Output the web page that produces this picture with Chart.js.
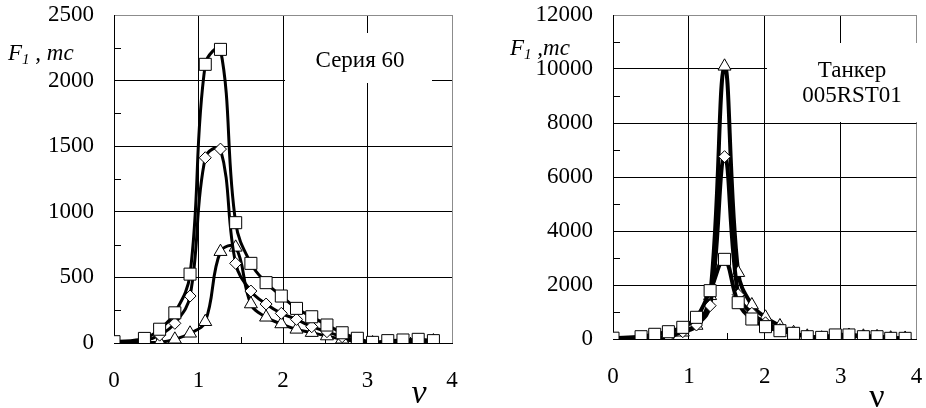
<!DOCTYPE html>
<html>
<head>
<meta charset="utf-8">
<script src="https://cdn.jsdelivr.net/npm/chart.js@4.4.1/dist/chart.umd.min.js"></script>
<style>
  body { margin: 0; background: #fff; }
  #wrap { position: relative; width: 926px; height: 408px; }
  canvas { position: absolute; top: 0; }
</style>
</head>
<body>
<div id="wrap">
  <canvas id="series60" width="470" height="408" style="left:0"></canvas>
  <canvas id="tanker" width="456" height="408" style="left:470px"></canvas>
</div>
<script>
// Серия 60 (left panel)
const nuSeries60 = [0, 0.36, 0.54, 0.72, 0.9, 1.08, 1.26, 1.44, 1.62, 1.8, 1.98, 2.16, 2.34, 2.52, 2.7, 2.88, 3.06, 3.24, 3.42, 3.6, 3.78];
const s60Squares = [10, 35, 105, 230, 525, 2124, 2238, 917, 607, 460, 358, 264, 200, 137, 78, 36, 5, 18, 23, 28, 18];
const s60Diamonds = [5, 20, 60, 150, 358, 1412, 1478, 607, 396, 297, 226, 180, 124, 86, 48, 20, 5, 0, 0, 10, 15];
const s60Triangles = [0, 5, 5, 28, 74, 162, 696, 729, 297, 196, 145, 104, 79, 53, 28, 10, 0, 0, 0, 10, 15];

// Танкер 005RST01 (right panel)
const nuTanker = [0, 0.37, 0.55, 0.73, 0.92, 1.1, 1.28, 1.47, 1.65, 1.83, 2.01, 2.2, 2.38, 2.56, 2.75, 2.93, 3.11, 3.3, 3.48, 3.66, 3.85];
const tSquares = [30, 85, 174, 270, 432, 803, 1790, 2950, 1345, 740, 457, 308, 210, 85, 60, 150, 150, 85, 85, 25, 25];
const tDiamonds = [0, 30, 40, 100, 270, 518, 1234, 6753, 1642, 950, 600, 350, 200, 100, 40, 60, 140, 100, 90, 40, 20];
const tTriangles = [0, 20, 20, 80, 250, 500, 1600, 10100, 2456, 1259, 804, 481, 230, 100, 30, 50, 130, 100, 80, 30, 20];

const xTicks = [0, 1, 2, 3, 4];
const xMinor = [0.5, 1.5, 2.5, 3.5];

const SERIF = "'Liberation Serif', 'Times New Roman', serif";
const tickFont = { family: SERIF, size: 23 };
Chart.defaults.font.family = SERIF;
Chart.defaults.color = '#000';

// minor ticks, white label box, captions
const decorations = {
  id: 'decorations',
  beforeDatasetsDraw(chart, args, opts) {
    const { ctx, chartArea, scales: { x, y } } = chart;
    ctx.save();
    ctx.strokeStyle = '#000';
    ctx.lineWidth = 1;
    ctx.beginPath();
    xMinor.forEach(v => {
      const px = Math.round(x.getPixelForValue(v)) + 0.5;
      ctx.moveTo(px, chartArea.bottom);
      ctx.lineTo(px, chartArea.bottom - 6);
    });
    opts.minorY.forEach(v => {
      const py = Math.round(y.getPixelForValue(v)) + 0.5;
      ctx.moveTo(chartArea.left, py);
      ctx.lineTo(chartArea.left + 7, py);
    });
    ctx.stroke();
    const b = opts.box;
    ctx.fillStyle = '#fff';
    ctx.fillRect(b.x, b.y, b.w, b.h);
    ctx.restore();
  },
  afterDraw(chart, args, opts) {
    const ctx = chart.ctx;
    const b = opts.box;
    ctx.save();
    ctx.fillStyle = '#000';
    ctx.textBaseline = 'alphabetic';
    ctx.textAlign = 'center';
    ctx.font = '23px ' + SERIF;
    b.lines.forEach((t, i) => ctx.fillText(t, b.cx, b.base + i * 25));

    // F1 , mc
    const c = opts.caption;
    ctx.textAlign = 'left';
    ctx.font = 'italic 23px ' + SERIF;
    ctx.fillText('F', c.x, c.base);
    let cx = c.x + ctx.measureText('F').width;
    ctx.font = 'italic 15px ' + SERIF;
    ctx.fillText('1', cx, c.base + 4);
    cx += ctx.measureText('1').width;
    ctx.font = 'italic 23px ' + SERIF;
    ctx.fillText(c.rest, cx, c.base);

    // nu
    const n = opts.nu;
    ctx.textAlign = 'center';
    ctx.font = (n.italic ? 'italic ' : '') + '34px ' + SERIF;
    ctx.fillText('\u03BD', n.x, n.base);
    ctx.restore();
  }
};

function noPadding(s) {
  s.paddingTop = 0;
  s.paddingBottom = 0;
  s.paddingLeft = 0;
  s.paddingRight = 0;
}

function makeChart(id, nu, squares, diamonds, triangles, o) {
  const canvas = document.getElementById(id);
  const W = canvas.width, H = canvas.height;
  const pts = arr => nu.map((v, i) => ({ x: v, y: arr[i] }));
  const ds = (label, arr, style, radius) => ({
    label,
    data: pts(arr),
    borderColor: '#000',
    borderWidth: o.lineWidth,
    pointStyle: style,
    pointRadius: radius,
    pointBackgroundColor: '#fff',
    pointBorderColor: '#000',
    pointBorderWidth: 1,
    tension: 0.4,
    fill: false
  });
  const frameColor = max => c => (c.tick && c.tick.value === max ? '#8c8c8c' : '#000');

  return new Chart(canvas, {
    type: 'line',
    data: {
      datasets: [
        ds('squares', squares, 'rect', 8.5),
        ds('diamonds', diamonds, 'rectRot', 6),
        ds('triangles', triangles, 'triangle', 7.5)
      ]
    },
    options: {
      responsive: false,
      animation: false,
      layout: { padding: { top: o.top, right: W - o.right, left: 0, bottom: 0 } },
      plugins: {
        legend: { display: false },
        tooltip: { enabled: false },
        decorations: { minorY: o.minorY, box: o.box, caption: o.caption, nu: o.nu }
      },
      scales: {
        x: {
          type: 'linear',
          min: 0,
          max: 4,
          afterBuildTicks: s => { s.ticks = xTicks.map(v => ({ value: v })); },
          ticks: { padding: 24, maxRotation: 0, font: tickFont, color: '#000', callback: v => String(v) },
          grid: { color: frameColor(4), lineWidth: 1, drawTicks: false },
          border: { color: '#000', width: 1 },
          afterFit: s => { s.height = H - o.bottom; noPadding(s); }
        },
        y: {
          min: 0,
          max: o.yMax,
          ticks: { stepSize: o.yStep, padding: 20, font: tickFont, color: '#000', callback: v => String(v) },
          grid: { color: frameColor(o.yMax), lineWidth: 1, drawTicks: false },
          border: { color: '#000', width: 1 },
          afterFit: s => { s.width = o.left; noPadding(s); }
        }
      }
    },
    plugins: [decorations]
  });
}

makeChart('series60', nuSeries60, s60Squares, s60Diamonds, s60Triangles, {
  left: 114, right: 452, top: 15, bottom: 343,
  yMax: 2500, yStep: 500,
  minorY: [250, 750, 1250, 1750, 2250],
  lineWidth: 3,
  box: { x: 285, y: 33, w: 147, h: 50, cx: 360, base: 67, lines: ['Серия 60'] },
  caption: { x: 8, base: 60, rest: ' , mc' },
  nu: { x: 419, base: 403, italic: true }
});

makeChart('tanker', nuTanker, tSquares, tDiamonds, tTriangles, {
  left: 143, right: 448, top: 15, bottom: 339,
  yMax: 12000, yStep: 2000,
  minorY: [1000, 3000, 5000, 7000, 9000, 11000],
  lineWidth: 4,
  box: { x: 297, y: 43, w: 159, h: 79, cx: 382, base: 77, lines: ['Танкер', '005RST01'] },
  caption: { x: 40, base: 55, rest: ' ,mc' },
  nu: { x: 407, base: 407, italic: false }
});
</script>
</body>
</html>
